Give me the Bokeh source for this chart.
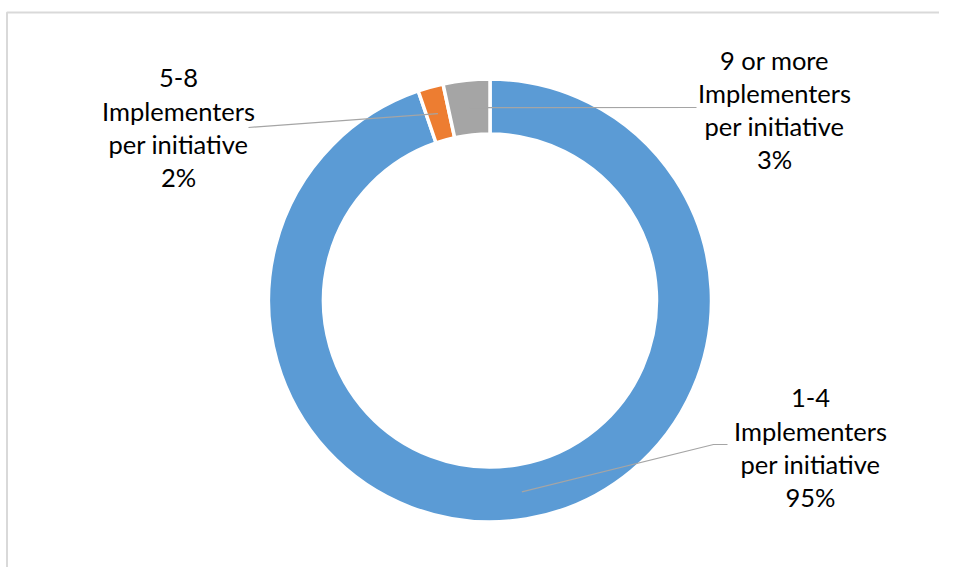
import math
from bokeh.plotting import figure
from bokeh.models import Range1d
from bokeh.core.properties import value
from bokeh.embed import file_html
from bokeh.resources import INLINE

# ---- data ----
categories = ["1-4", "5-8", "9 or more"]
shares = [94.75, 1.85, 3.4]
colors = ["#5B9BD5", "#ED7D31", "#A5A5A5"]

W, H = 939, 567
p = figure(width=W, height=H, output_backend="svg", toolbar_location=None,
           x_range=Range1d(0, W), y_range=Range1d(583 - H, 583),
           min_border=0)
p.axis.visible = False
p.grid.visible = False
p.outline_line_color = None
p.background_fill_color = "white"

# frame border (chart area edge)
p.line([6.5, 6.5, W], [0, 571, 571], line_color="#D9D9D9", line_width=2)

cx, cy = 489.5, 583 - 300
r_out, r_in = 221.5, 166.5

total = sum(shares)
starts, ends, mids = [], [], []
a = math.pi / 2
for s in shares:
    da = 2 * math.pi * s / total
    starts.append(a)
    ends.append(a - da)
    mids.append(a - da / 2)
    a -= da

p.annular_wedge(x=cx, y=cy, inner_radius=r_in, outer_radius=r_out,
                start_angle=starts, end_angle=ends, direction="clock",
                fill_color=colors, line_color="white", line_width=3.5)

# label anchor positions
label_cx = [810, 178, 774]
label_mid = [397, 77, 59]   # vertical centre of first line (screen y)
elbow = [[(713, 444), (727, 444)], [(248, 127)], [(696, 107)]]
rm = (r_in + r_out) / 2
for i, cat in enumerate(categories):
    pct = f"{round(shares[i] / total * 100)}%"
    lines = [cat, "Implementers", "per initiative", pct]
    for j, t in enumerate(lines):
        p.text(x=[label_cx[i]], y=[583 - (label_mid[i] + 33 * j)], text=[t],
               text_font=value("Lato"), text_font_size="25.5px",
               text_color="#000000", text_align="center",
               text_baseline="middle")
    x0 = cx + rm * math.cos(mids[i])
    y0 = cy + rm * math.sin(mids[i])
    xs = [x0] + [e[0] for e in elbow[i]]
    ys = [y0] + [583 - e[1] for e in elbow[i]]
    p.line(xs, ys, line_color="#A5A5A5", line_width=1.2)

open("out.html", "w").write(file_html(p, INLINE))
